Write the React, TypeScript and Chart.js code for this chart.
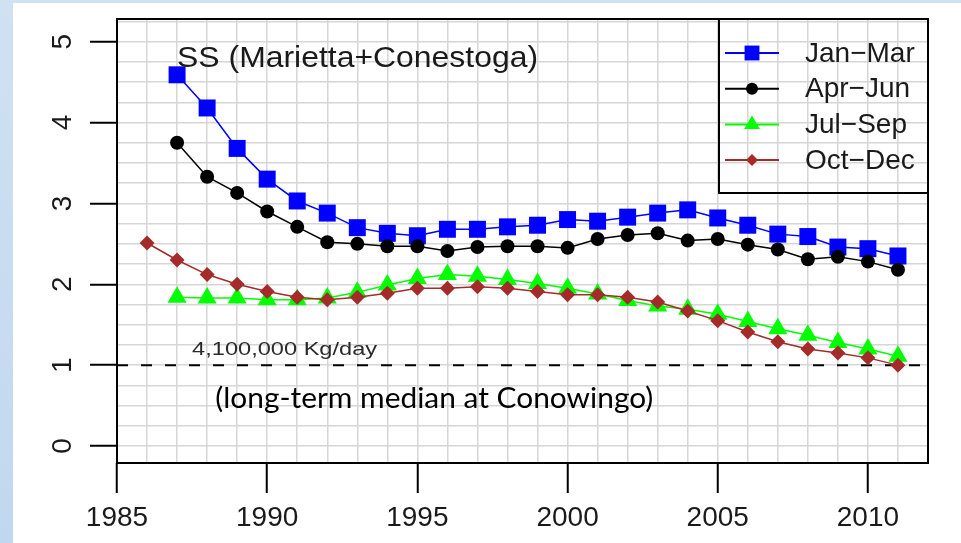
import React, { useEffect, useRef } from 'react';
import { Chart, registerables } from 'chart.js';
import { drawPoint } from 'chart.js/helpers';

Chart.register(...registerables);

// ---- data ----
const yearsOctDec = [1986, 1987, 1988, 1989, 1990, 1991, 1992, 1993, 1994, 1995, 1996, 1997, 1998, 1999, 2000, 2001, 2002, 2003, 2004, 2005, 2006, 2007, 2008, 2009, 2010, 2011];
const yearsQ = [1987, 1988, 1989, 1990, 1991, 1992, 1993, 1994, 1995, 1996, 1997, 1998, 1999, 2000, 2001, 2002, 2003, 2004, 2005, 2006, 2007, 2008, 2009, 2010, 2011];

const janMar = [4.59, 4.18, 3.68, 3.30, 3.03, 2.88, 2.70, 2.63, 2.60, 2.68, 2.68, 2.71, 2.73, 2.80, 2.78, 2.83, 2.88, 2.92, 2.82, 2.73, 2.62, 2.59, 2.46, 2.44, 2.35];
const aprJun = [3.75, 3.33, 3.13, 2.90, 2.71, 2.52, 2.50, 2.47, 2.47, 2.41, 2.46, 2.47, 2.47, 2.45, 2.56, 2.61, 2.63, 2.54, 2.56, 2.49, 2.43, 2.31, 2.34, 2.28, 2.18];
const julSep = [1.84, 1.83, 1.83, 1.81, 1.81, 1.83, 1.90, 1.99, 2.07, 2.12, 2.10, 2.06, 2.01, 1.95, 1.88, 1.80, 1.73, 1.69, 1.63, 1.54, 1.45, 1.37, 1.28, 1.20, 1.11];
const octDec = [2.51, 2.30, 2.12, 2.00, 1.91, 1.84, 1.81, 1.84, 1.89, 1.95, 1.95, 1.97, 1.95, 1.91, 1.87, 1.87, 1.84, 1.78, 1.67, 1.55, 1.41, 1.29, 1.20, 1.15, 1.09, 1.00];

const seriesLabels = ['Jan\u2212Mar', 'Apr\u2212Jun', 'Jul\u2212Sep', 'Oct\u2212Dec'];
const medianLevel = 1;
const xRange = [1985, 2012];
const yRange = [-0.21, 5.28];

const titleText = 'SS (Marietta+Conestoga)';
const medianLabel = '4,100,000 Kg/day';
const medianNote = '(long-term median at Conowingo)';

const pts = (xs: number[], ys: number[]) => xs.map((x, i) => ({ x, y: ys[i] }));
const isInt = (v: number) => Math.abs(v - Math.round(v)) < 1e-6;

function drawStretched(ctx: CanvasRenderingContext2D, text: string, x: number, y: number, font: string, targetW: number, color: string) {
  ctx.save();
  ctx.font = font;
  ctx.fillStyle = color;
  ctx.textAlign = 'left';
  ctx.textBaseline = 'alphabetic';
  const w = ctx.measureText(text).width;
  ctx.translate(x, y);
  ctx.scale(targetW / w, 1);
  ctx.fillText(text, 0, 0);
  ctx.restore();
}

const annotPlugin = {
  id: 'annots',
  afterDatasetsDraw(chart: any) {
    const { ctx, chartArea, scales } = chart;
    const xs = scales.x, ys = scales.y;
    drawStretched(ctx, titleText, xs.getPixelForValue(1987.0), ys.getPixelForValue(4.69), '29px "Liberation Sans"', 361, '#1a1a1a');
    drawStretched(ctx, medianLabel, xs.getPixelForValue(1987.5), ys.getPixelForValue(1.13), '19px "Liberation Sans"', 185, '#2a2a2a');
    drawStretched(ctx, medianNote, xs.getPixelForValue(1988.27), ys.getPixelForValue(0.47), '29px Lato', 438, '#000000');
    ctx.save();
    ctx.strokeStyle = '#000';
    ctx.lineWidth = 2;
    ctx.strokeRect(chartArea.left, chartArea.top, chartArea.right - chartArea.left, chartArea.bottom - chartArea.top);
    ctx.restore();
  },
};

const legendPlugin = {
  id: 'rlegend',
  afterDraw(chart: any) {
    const { ctx, chartArea } = chart;
    const boxW = 209, boxH = 174;
    const x0 = chartArea.right - boxW, y0 = chartArea.top;
    ctx.save();
    ctx.strokeStyle = '#000';
    ctx.lineWidth = 2;
    ctx.strokeRect(x0, y0, boxW, boxH);
    const items = chart.data.datasets.filter((d: any) => d.inLegend);
    items.forEach((ds: any, i: number) => {
      const cy = y0 + 34 + i * 35.7;
      ctx.strokeStyle = ds.borderColor;
      ctx.lineWidth = 2;
      ctx.beginPath();
      ctx.moveTo(x0 + 6, cy);
      ctx.lineTo(x0 + 60, cy);
      ctx.stroke();
      ctx.fillStyle = ds.pointBackgroundColor;
      drawPoint(ctx, { pointStyle: ds.pointStyle, rotation: 0, radius: ds.legendRadius, borderWidth: 0 } as any, x0 + 33, cy);
      ctx.fillStyle = '#1a1a1a';
      ctx.font = '28px "Liberation Sans"';
      ctx.textAlign = 'left';
      ctx.textBaseline = 'middle';
      ctx.fillText(ds.label, x0 + 86, cy + 1);
    });
    ctx.restore();
  },
};

export default function App() {
  const ref = useRef<HTMLCanvasElement>(null);
  useEffect(() => {
    document.body.style.margin = '0';
    const canvas = ref.current!;
    const chart = new Chart(canvas, {
      type: 'line',
      data: {
        datasets: [
          {
            label: seriesLabels[0], data: pts(yearsQ, janMar), inLegend: true, legendRadius: 10.5,
            borderColor: '#0000ff', backgroundColor: '#0000ff', pointBackgroundColor: '#0000ff',
            pointStyle: 'rect', pointRadius: 12, pointBorderWidth: 0, borderWidth: 1.5, order: 4,
          } as any,
          {
            label: seriesLabels[1], data: pts(yearsQ, aprJun), inLegend: true, legendRadius: 6,
            borderColor: '#000000', backgroundColor: '#000000', pointBackgroundColor: '#000000',
            pointStyle: 'circle', pointRadius: 7, pointBorderWidth: 0, borderWidth: 1.5, order: 3,
          } as any,
          {
            label: seriesLabels[2], data: pts(yearsQ, julSep), inLegend: true, legendRadius: 9,
            borderColor: '#00ff00', backgroundColor: '#00ff00', pointBackgroundColor: '#00ff00',
            pointStyle: 'triangle', pointRadius: 11, pointBorderWidth: 0, borderWidth: 1.5, order: 2,
          } as any,
          {
            label: seriesLabels[3], data: pts(yearsOctDec, octDec), inLegend: true, legendRadius: 6,
            borderColor: '#a52a2a', backgroundColor: '#a52a2a', pointBackgroundColor: '#a52a2a',
            pointStyle: 'rectRot', pointRadius: 7.5, pointBorderWidth: 0, borderWidth: 1.5, order: 1,
          } as any,
          {
            label: 'median', data: pts(xRange, [medianLevel, medianLevel]), inLegend: false,
            borderColor: '#000000', borderWidth: 2, borderDash: [11, 13], pointRadius: 0, order: 5,
          } as any,
        ],
      },
      options: {
        animation: false,
        responsive: false,
        maintainAspectRatio: false,
        layout: { padding: { left: 0, top: 16, right: 33, bottom: 0 } },
        plugins: { legend: { display: false }, tooltip: { enabled: false } },
        elements: { line: { tension: 0 } },
        scales: {
          x: {
            type: 'linear',
            min: xRange[0],
            max: xRange[1],
            afterFit: (s: any) => { s.height = 80; s.paddingLeft = 0; s.paddingRight = 0; },
            border: { display: false },
            grid: {
              color: '#d6d6d6', lineWidth: 1.5, tickLength: 30, tickWidth: 2,
              tickColor: (c: any) => (c.tick && c.tick.value % 5 === 0 ? '#000' : 'rgba(0,0,0,0)'),
            },
            ticks: {
              stepSize: 1, autoSkip: false, maxRotation: 0, minRotation: 0, padding: 8, includeBounds: false,
              color: '#1a1a1a', font: { family: 'Liberation Sans', size: 28, lineHeight: 1.2 },
              callback: (v: any) => (Number(v) % 5 === 0 ? String(v) : ''),
            },
          },
          y: {
            type: 'linear',
            min: yRange[0],
            max: yRange[1],
            afterFit: (s: any) => { s.width = 104; s.paddingTop = 0; s.paddingBottom = 0; },
            border: { display: false },
            grid: {
              color: '#d6d6d6', lineWidth: 1.5, tickLength: 27, tickWidth: 2,
              tickColor: (c: any) => (c.tick && isInt(c.tick.value) ? '#000' : 'rgba(0,0,0,0)'),
            },
            ticks: {
              stepSize: 0.25, autoSkip: false, includeBounds: false, minRotation: 90, maxRotation: 90,
              crossAlign: 'center', padding: 19,
              color: '#1a1a1a', font: { family: 'Liberation Sans', size: 28, lineHeight: 1.2 },
              callback: (v: any) => (isInt(Number(v)) ? String(Math.round(Number(v))) : ''),
            },
          },
        },
      } as any,
      plugins: [annotPlugin, legendPlugin],
    });
    return () => chart.destroy();
  }, []);

  return (
    <div style={{ position: 'relative', width: 961, height: 543, overflow: 'hidden', background: 'linear-gradient(#d0e1f1, #c0d8ef)' }}>
      <canvas ref={ref} width={948} height={540} style={{ position: 'absolute', left: 13, top: 3, width: 948, height: 540, background: '#ffffff' }} />
    </div>
  );
}
